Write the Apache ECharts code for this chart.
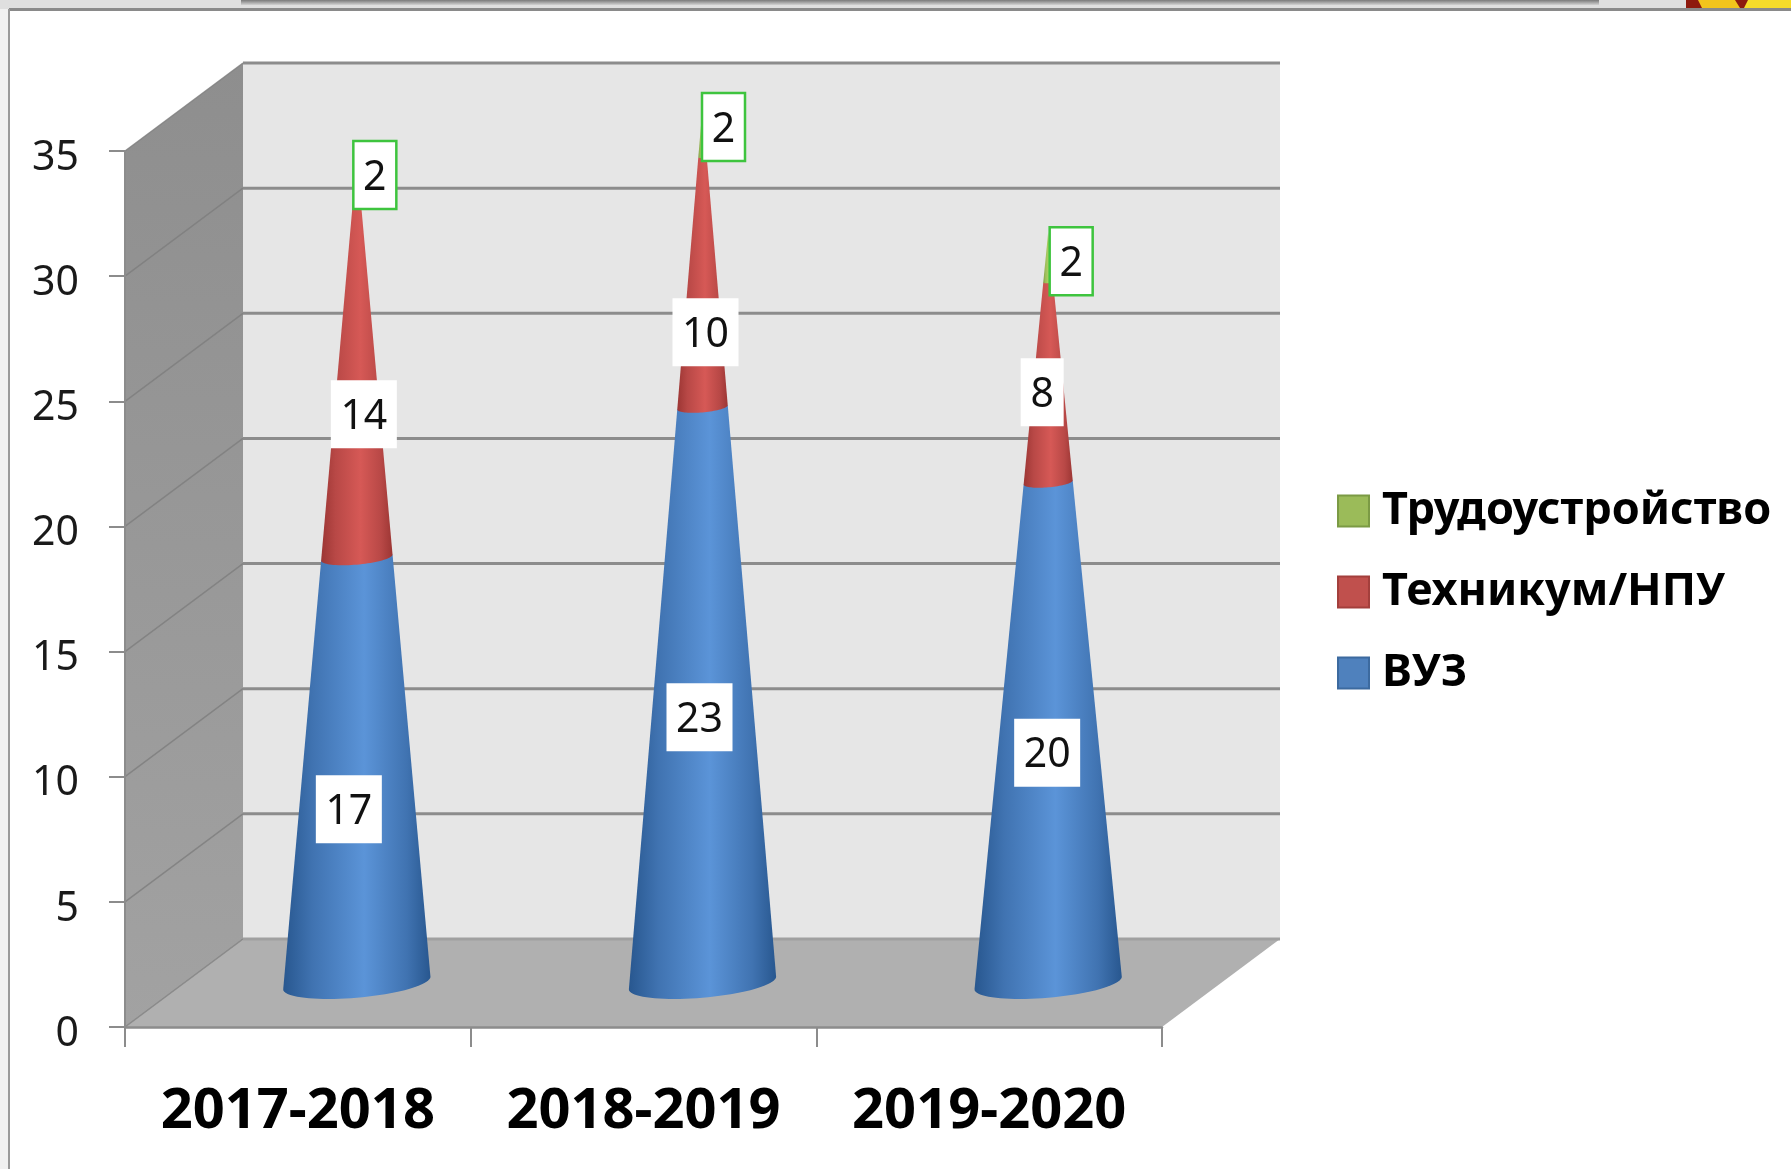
<!DOCTYPE html>
<html>
<head>
<meta charset="utf-8">
<title>Chart</title>
<style>html,body{margin:0;padding:0;background:#fff}#c{width:1791px;height:1169px}</style>
<script src="https://cdn.jsdelivr.net/npm/echarts@6/dist/echarts.min.js"></script>
</head>
<body>
<div id="c"></div>
<script>
const categories = ['2017-2018', '2018-2019', '2019-2020'];
const seriesVuz = [17, 23, 20];
const seriesTechnikum = [14, 10, 8];
const seriesTrud = [2, 2, 2];
const yTicks = [0, 5, 10, 15, 20, 25, 30, 35];

const nameVuz = 'ВУЗ', nameTech = 'Техникум/НПУ', nameTrud = 'Трудоустройство';

// layout only
const DX = 118, DY = -88;
const FONT = '"Noto Sans", sans-serif';
const nudgeVuz = [[-8, 39], [-3, 22], [-1, 20]];
const nudgeTech = [[7, 32], [3, 50], [-6, 10]];
const nudgeTrud = [[18, -7], [21, -5], [23, 4]];

const totals = categories.map((_, i) => seriesVuz[i] + seriesTechnikum[i] + seriesTrud[i]);

function hGrad(edge, mid, centre) {
  return {type: 'linear', x: 0, y: 0, x2: 1, y2: 0, global: false, colorStops: [
    {offset: 0, color: edge}, {offset: 0.2, color: mid}, {offset: 0.55, color: centre},
    {offset: 0.84, color: mid}, {offset: 1, color: edge}
  ]};
}

function coneRenderer(fill, nudges, boxed) {
  return function (params, api) {
    const i = api.value(0), from = api.value(1), to = api.value(2), total = api.value(3);
    const base = api.coord([i, from]), top = api.coord([i, to]);
    const cx = base[0] + DX / 2;
    const yb = base[1] + DY / 2, yt = top[1] + DY / 2;
    const W = api.size([1, 0])[0] * 0.213;
    const wb = W * (1 - from / total), wt = W * (1 - to / total);
    const s = 0.085, r = 0.2;
    const pts = [[cx - wt, yt + s * wt], [cx + wt, yt - s * wt]];
    for (let k = 0; k <= 40; k++) {
      const t = Math.PI * k / 40;
      pts.push([cx + wb * Math.cos(t), yb - s * wb * Math.cos(t) + r * wb * Math.sin(t)]);
    }
    const mid = api.coord([i, (from + to) / 2]);
    const n = nudges[i];
    const lx = cx + n[0], ly = mid[1] + DY / 2 + n[1];
    const txt = String(to - from);
    const bw = txt.length > 1 ? 66 : 43, bh = 68;
    return {type: 'group', children: [
      {type: 'polygon', shape: {points: pts}, style: {fill: fill}},
      {type: 'rect', z2: 50, shape: {x: lx - bw / 2, y: ly - bh / 2, width: bw, height: bh},
        style: {fill: '#fff', stroke: boxed ? '#3ec43e' : null, lineWidth: boxed ? 2.5 : 0}},
      {type: 'text', z2: 51, x: lx, y: ly + 3,
        style: {text: txt, font: '41px ' + FONT, fill: '#111', align: 'center', verticalAlign: 'middle'}}
    ]};
  };
}

function stackData(lower, values) {
  return categories.map((_, i) => [i, lower[i], lower[i] + values[i], totals[i]]);
}
const lowerTech = seriesVuz;
const lowerTrud = seriesVuz.map((v, i) => v + seriesTechnikum[i]);

const option = {
  animation: false,
  backgroundColor: '#fff',
  textStyle: {fontFamily: FONT},
  graphic: [
    {type: 'rect', z: 0, shape: {x: 0, y: 0, width: 1791, height: 9}, style: {fill: '#dfdfdf'}},
    {type: 'rect', z: 0, shape: {x: 0, y: 9, width: 9, height: 1160}, style: {fill: '#f1f1f1'}},
    {type: 'rect', z: 0, shape: {x: 241, y: 0, width: 1358, height: 5},
      style: {fill: {type: 'linear', x: 0, y: 0, x2: 0, y2: 1, colorStops: [
        {offset: 0, color: '#7a7a7a'}, {offset: 1, color: '#d2d2d2'}]}}},
    {type: 'rect', z: 0, shape: {x: 1686, y: 0, width: 105, height: 8}, style: {fill: '#8e1a0e'}},
    {type: 'polygon', z: 0, shape: {points: [[1698, 0], [1702, 8], [1740, 8], [1735, 0]]}, style: {fill: '#f2c41c'}},
    {type: 'polygon', z: 0, shape: {points: [[1748, 0], [1744, 8], [1791, 8], [1791, 0]]}, style: {fill: '#f6dc2a'}},
    {type: 'line', z: 1, shape: {x1: 9, y1: 9.5, x2: 1791, y2: 9.5}, style: {stroke: '#8a8a8a', lineWidth: 3}},
    {type: 'line', z: 1, shape: {x1: 9, y1: 9, x2: 9, y2: 1169}, style: {stroke: '#9a9a9a', lineWidth: 2}}
  ],
  grid: {left: 125, top: 151, width: 1037, height: 876, containLabel: false},
  xAxis: {
    type: 'category', data: categories, z: 5,
    axisLine: {show: true, lineStyle: {color: '#8c8c8c', width: 2.5}},
    axisTick: {show: true, length: 20, alignWithLabel: false, lineStyle: {color: '#8c8c8c', width: 2}},
    axisLabel: {interval: 0, margin: 57, fontSize: 56, fontWeight: 'bold', color: '#000', fontFamily: FONT},
    splitLine: {show: false}
  },
  yAxis: {
    type: 'value', min: 0, max: 35, interval: 5, z: 5,
    axisLine: {show: true, lineStyle: {color: '#8c8c8c', width: 2}},
    axisTick: {show: true, length: 16, lineStyle: {color: '#8c8c8c', width: 2}},
    axisLabel: {margin: 46, fontSize: 41, color: '#1a1a1a', fontFamily: FONT, verticalAlign: 'top', lineHeight: 14, verticalAlignMinLabel: 'top', verticalAlignMaxLabel: 'top'},
    splitLine: {show: false}
  },
  legend: {
    orient: 'vertical', left: 1337, top: 486, padding: 0, itemWidth: 31, itemHeight: 31, itemGap: 31,
    selectedMode: false,
    textStyle: {fontSize: 45, fontWeight: 'bold', color: '#000', fontFamily: FONT, lineHeight: 50, padding: [0, 0, 0, 8]},
    data: [
      {name: nameTrud, icon: 'rect', itemStyle: {color: '#9bbb59', borderColor: '#7b9a44', borderWidth: 2}},
      {name: nameTech, icon: 'rect', itemStyle: {color: '#c0504d', borderColor: '#a33f3c', borderWidth: 2}},
      {name: nameVuz, icon: 'rect', itemStyle: {color: '#4f81bd', borderColor: '#3c6a9f', borderWidth: 2}}
    ]
  },
  series: [
    {
      type: 'custom', name: 'walls', silent: true, clip: false, z: 1, data: [[0, 0]],
      renderItem: function (params, api) {
        const g = params.coordSys;
        const L = g.x, R = g.x + g.width, T = g.y, B = g.y + g.height;
        return {type: 'group', children: [
          {type: 'polygon', shape: {points: [[L + DX, T + DY], [R + DX, T + DY], [R + DX, B + DY], [L + DX, B + DY]]},
            style: {fill: '#e6e6e6'}},
          {type: 'polygon', shape: {points: [[L, T], [L + DX, T + DY], [L + DX, B + DY], [L, B]]},
            style: {fill: {type: 'linear', x: 0, y: 0, x2: 0, y2: 1, colorStops: [
              {offset: 0, color: '#8e8e8e'}, {offset: 1, color: '#a2a2a2'}]}}},
          {type: 'polygon', shape: {points: [[L, B], [L + DX, B + DY], [R + DX, B + DY], [R, B]]},
            style: {fill: '#b0b0b0'}}
        ]};
      }
    },
    {
      type: 'custom', name: 'gridlines', silent: true, clip: false, z: 2,
      data: yTicks.map(t => [0, t]),
      renderItem: function (params, api) {
        const g = params.coordSys;
        const y = api.coord([0, api.value(1)])[1];
        const L = g.x, R = g.x + g.width;
        return {type: 'group', children: [
          {type: 'line', shape: {x1: L, y1: y, x2: L + DX, y2: y + DY},
            style: {stroke: '#7d7d7d', lineWidth: 1.5, opacity: 0.8}},
          {type: 'line', shape: {x1: L + DX, y1: y + DY, x2: R + DX, y2: y + DY},
            style: {stroke: api.value(1) === 0 ? '#a0a0a0' : '#8c8c8c', lineWidth: 3}}
        ]};
      }
    },
    {
      type: 'custom', name: nameVuz, clip: false, z: 3, itemStyle: {color: '#4f81bd'},
      data: stackData(categories.map(() => 0), seriesVuz),
      renderItem: coneRenderer(hGrad('#28578f', '#4073b1', '#5b94d8'), nudgeVuz, false)
    },
    {
      type: 'custom', name: nameTech, clip: false, z: 4, itemStyle: {color: '#c0504d'},
      data: stackData(lowerTech, seriesTechnikum),
      renderItem: coneRenderer(hGrad('#9c3634', '#b84846', '#d65956'), nudgeTech, false)
    },
    {
      type: 'custom', name: nameTrud, clip: false, z: 4, itemStyle: {color: '#9bbb59'},
      data: stackData(lowerTrud, seriesTrud),
      renderItem: coneRenderer(hGrad('#7d9a42', '#9bbb59', '#aed163'), nudgeTrud, true)
    }
  ]
};
const chart = echarts.init(document.getElementById('c'), null, {renderer: 'canvas', width: 1791, height: 1169});
chart.setOption(option);
</script>
</body>
</html>
